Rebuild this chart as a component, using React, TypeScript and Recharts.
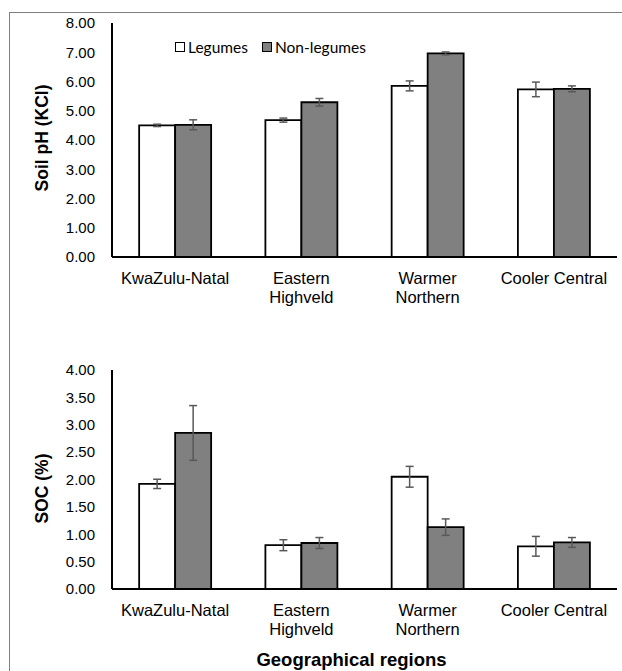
import React from 'react';
import { BarChart, Bar, XAxis, YAxis, ErrorBar } from 'recharts';

// regions (x-axis), "\n" marks a line break in the tick label
const regions = ['KwaZulu-Natal', 'Eastern\nHighveld', 'Warmer\nNorthern', 'Cooler Central'];
const seriesNames = ['Legumes', 'Non-legumes'];
const seriesFills = ['#ffffff', '#808080'];

// soil pH (KCl)
const phLegumes = [4.5, 4.68, 5.85, 5.73];
const phLegumesErr = [0.04, 0.07, 0.17, 0.25];
const phNonLegumes = [4.52, 5.29, 6.96, 5.75];
const phNonLegumesErr = [0.17, 0.13, 0.05, 0.1];
const phTicks = [0, 1, 2, 3, 4, 5, 6, 7, 8];

// soil organic carbon (%)
const socLegumes = [1.92, 0.8, 2.05, 0.78];
const socLegumesErr = [0.085, 0.1, 0.19, 0.18];
const socNonLegumes = [2.85, 0.84, 1.13, 0.85];
const socNonLegumesErr = [0.5, 0.1, 0.15, 0.09];
const socTicks = [0, 0.5, 1, 1.5, 2, 2.5, 3, 3.5, 4];

const FONT = '"Liberation Sans", Arial, sans-serif';

const buildRows = (leg: number[], legErr: number[], non: number[], nonErr: number[]) =>
  regions.map((region, i) => ({
    region,
    leg: leg[i],
    legErr: legErr[i],
    non: non[i],
    nonErr: nonErr[i],
  }));

const phData = buildRows(phLegumes, phLegumesErr, phNonLegumes, phNonLegumesErr);
const socData = buildRows(socLegumes, socLegumesErr, socNonLegumes, socNonLegumesErr);

function RegionTick(props: any) {
  const { x, y, payload } = props;
  const lines = String(payload.value).split('\n');
  return (
    <text x={x} y={y} textAnchor="middle" fontSize={16.5} fill="#000" fontFamily={FONT}>
      {lines.map((line, i) => (
        <tspan key={i} x={x} dy={i === 0 ? '0.71em' : 19}>
          {line}
        </tspan>
      ))}
    </text>
  );
}

// legend drawn as an overlay so it takes no room from the plot
function LegendBox() {
  return (
    <div
      style={{
        position: 'absolute',
        left: 175,
        top: 38,
        display: 'flex',
        alignItems: 'center',
        fontFamily: 'Lato, sans-serif',
        fontSize: 15.5,
        color: '#000',
        whiteSpace: 'nowrap',
      }}
    >
      {seriesNames.map((name, i) => (
        <div key={name} style={{ display: 'flex', alignItems: 'center', marginRight: 14 }}>
          <span
            style={{
              display: 'inline-block',
              width: 8,
              height: 8,
              border: '1px solid #000',
              background: seriesFills[i],
              marginRight: 3,
            }}
          />
          <span>{name}</span>
        </div>
      ))}
    </div>
  );
}

interface RegionChartProps {
  data: any[];
  ticks: number[];
  yTitle: string;
  titleShift: number;
  height: number;
  marginTop: number;
  xAxisHeight: number;
  marginBottom: number;
  xTitle?: string;
}

function RegionChart({
  data,
  ticks,
  yTitle,
  titleShift,
  height,
  marginTop,
  xAxisHeight,
  marginBottom,
  xTitle,
}: RegionChartProps) {
  const max = ticks[ticks.length - 1];
  return (
    <BarChart
      width={622}
      height={height}
      data={data}
      margin={{ top: marginTop, right: 5, left: 62, bottom: marginBottom }}
      barCategoryGap="21.5%"
      barGap={0}
    >
      <XAxis
        dataKey="region"
        axisLine={{ stroke: '#000', strokeWidth: 2 }}
        tickLine={false}
        tickSize={0}
        tickMargin={15}
        height={xAxisHeight}
        interval={0}
        tick={<RegionTick />}
        label={
          xTitle
            ? {
                content: (p: any) => {
                  const vb = p.viewBox;
                  return (
                    <text
                      x={vb.x + vb.width / 2 - 13}
                      y={vb.y + vb.height - 5}
                      textAnchor="middle"
                      fontFamily={FONT}
                      fontWeight="bold"
                      fontSize={18.5}
                      fill="#000"
                    >
                      {xTitle}
                    </text>
                  );
                },
              }
            : undefined
        }
      />
      <YAxis
        width={50}
        domain={[0, max]}
        ticks={ticks}
        interval={0}
        axisLine={{ stroke: '#000', strokeWidth: 2 }}
        tickLine={false}
        tickSize={0}
        tickMargin={17}
        tick={{ fontSize: 15, fill: '#000', fontFamily: FONT }}
        tickFormatter={(v: number) => v.toFixed(2)}
        label={{
          content: (p: any) => {
            const vb = p.viewBox;
            const cy = vb.y + vb.height / 2 + titleShift;
            return (
              <text
                x={42}
                y={cy}
                transform={`rotate(-90, 42, ${cy})`}
                textAnchor="middle"
                dominantBaseline="central"
                fontFamily={FONT}
                fontWeight="bold"
                fontSize={17.5}
                fill="#000"
              >
                {yTitle}
              </text>
            );
          },
        }}
      />
      <Bar dataKey="leg" name={seriesNames[0]} fill={seriesFills[0]} stroke="#000" strokeWidth={1.8} isAnimationActive={false}>
        <ErrorBar dataKey="legErr" width={4} stroke="#595959" strokeWidth={1.5} direction="y" isAnimationActive={false} />
      </Bar>
      <Bar dataKey="non" name={seriesNames[1]} fill={seriesFills[1]} stroke="#000" strokeWidth={1.8} isAnimationActive={false}>
        <ErrorBar dataKey="nonErr" width={4} stroke="#595959" strokeWidth={1.5} direction="y" isAnimationActive={false} />
      </Bar>
    </BarChart>
  );
}

export default function App() {
  return (
    <div style={{ position: 'fixed', left: 0, top: 0, width: 622, height: 671, overflow: 'hidden', background: '#fff' }}>
      <div
        style={{
          position: 'absolute',
          left: 9,
          top: 12,
          width: 700,
          height: 700,
          borderTop: '1px solid #808080',
          borderLeft: '1px solid #808080',
        }}
      />
      <div style={{ position: 'absolute', left: 0, top: 0 }}>
        <RegionChart
          data={phData}
          ticks={phTicks}
          yTitle="Soil pH (KCl)"
          titleShift={-2}
          height={330}
          marginTop={23}
          xAxisHeight={60}
          marginBottom={13}
        />
      </div>
      <LegendBox />
      <div style={{ position: 'absolute', left: 0, top: 330 }}>
        <RegionChart
          data={socData}
          ticks={socTicks}
          yTitle="SOC (%)"
          titleShift={9}
          height={341}
          marginTop={40}
          xAxisHeight={82}
          marginBottom={0}
          xTitle="Geographical regions"
        />
      </div>
    </div>
  );
}
